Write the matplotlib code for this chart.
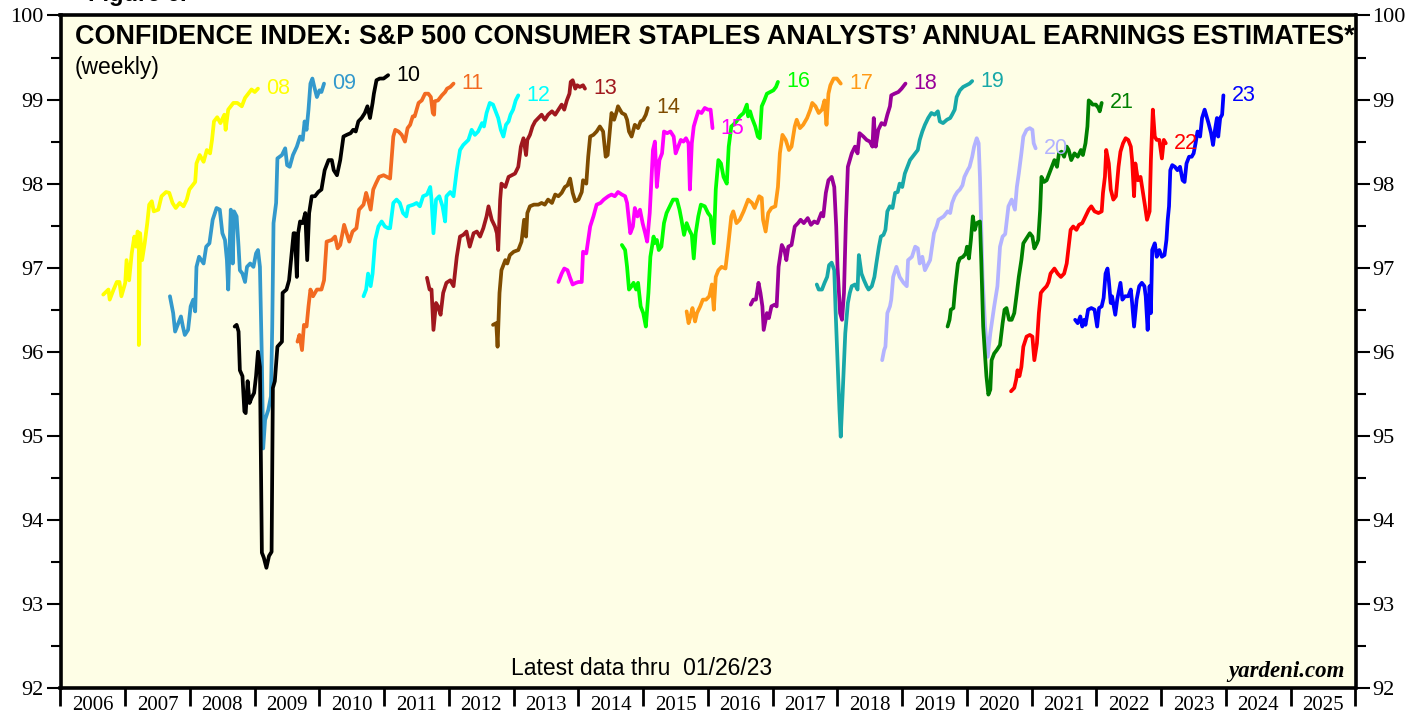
import matplotlib
matplotlib.use("Agg")
import matplotlib.pyplot as plt
from matplotlib.ticker import MultipleLocator, FixedLocator, NullFormatter, FuncFormatter

# ---------------- data (decimal year, confidence index) ----------------
s08 = [(2006.66,96.68),(2006.74,96.74),(2006.76,96.62),(2006.82,96.74),(2006.87,96.83),(2006.91,96.83),(2006.94,96.66),(2007.00,96.82),(2007.02,97.09),(2007.06,96.85),(2007.10,97.17),(2007.14,97.37),(2007.17,97.25),(2007.19,97.43),(2007.21,97.41),(2007.21,96.08),(2007.23,97.41),(2007.26,97.09),(2007.30,97.29),(2007.34,97.53),(2007.37,97.75),(2007.41,97.79),(2007.44,97.67),(2007.51,97.69),(2007.56,97.85),(2007.63,97.90),(2007.68,97.89),(2007.73,97.77),(2007.78,97.71),(2007.84,97.77),(2007.90,97.73),(2007.95,97.81),(2007.99,97.93),(2008.04,97.98),(2008.08,98.02),(2008.10,98.24),(2008.15,98.34),(2008.21,98.26),(2008.26,98.40),(2008.31,98.36),(2008.34,98.52),(2008.37,98.74),(2008.42,98.79),(2008.47,98.72),(2008.53,98.82),(2008.55,98.64),(2008.59,98.88),(2008.67,98.96),(2008.73,98.96),(2008.80,98.92),(2008.85,99.02),(2008.90,99.07),(2008.95,99.12),(2009.00,99.09),(2009.05,99.13)]
s09 = [(2007.69,96.66),(2007.74,96.46),(2007.77,96.24),(2007.82,96.34),(2007.86,96.42),(2007.89,96.30),(2007.92,96.20),(2007.97,96.26),(2008.01,96.54),(2008.05,96.62),(2008.08,96.48),(2008.10,97.01),(2008.14,97.13),(2008.21,97.05),(2008.25,97.25),(2008.30,97.29),(2008.35,97.57),(2008.41,97.71),(2008.46,97.69),(2008.50,97.41),(2008.54,97.33),(2008.57,97.09),(2008.59,96.74),(2008.63,97.69),(2008.66,97.05),(2008.68,97.67),(2008.72,97.61),(2008.75,97.25),(2008.77,96.97),(2008.81,96.93),(2008.85,96.83),(2008.88,97.01),(2008.93,97.05),(2008.98,97.01),(2009.02,97.17),(2009.05,97.21),(2009.08,97.01),(2009.11,95.90),(2009.13,94.85),(2009.16,95.19),(2009.21,95.31),(2009.25,95.47),(2009.27,96.30),(2009.29,97.53),(2009.33,97.77),(2009.35,98.30),(2009.42,98.34),(2009.47,98.42),(2009.50,98.22),(2009.54,98.20),(2009.59,98.34),(2009.65,98.44),(2009.70,98.56),(2009.74,98.52),(2009.77,98.74),(2009.80,98.64),(2009.83,98.88),(2009.86,99.19),(2009.89,99.25),(2009.92,99.15),(2009.96,99.03),(2010.00,99.11),(2010.03,99.09),(2010.07,99.19)]
s10 = [(2008.69,96.30),(2008.72,96.32),(2008.75,96.24),(2008.77,95.78),(2008.81,95.71),(2008.84,95.29),(2008.86,95.27),(2008.89,95.65),(2008.92,95.39),(2008.95,95.45),(2008.99,95.51),(2009.02,95.71),(2009.05,96.00),(2009.08,95.82),(2009.11,93.61),(2009.14,93.55),(2009.18,93.43),(2009.22,93.57),(2009.26,93.62),(2009.28,95.57),(2009.31,95.65),(2009.35,96.06),(2009.42,96.12),(2009.43,96.70),(2009.49,96.74),(2009.53,96.85),(2009.57,97.17),(2009.60,97.41),(2009.62,97.41),(2009.65,96.89),(2009.67,97.41),(2009.70,97.55),(2009.74,97.53),(2009.78,97.65),(2009.81,97.09),(2009.84,97.65),(2009.88,97.85),(2009.93,97.85),(2009.98,97.90),(2010.03,97.93),(2010.08,98.16),(2010.14,98.28),(2010.19,98.28),(2010.22,98.16),(2010.27,98.10),(2010.32,98.28),(2010.37,98.56),(2010.42,98.58),(2010.48,98.60),(2010.52,98.64),(2010.56,98.62),(2010.60,98.74),(2010.65,98.78),(2010.70,98.84),(2010.74,98.92),(2010.78,98.78),(2010.82,98.96),(2010.84,99.07),(2010.88,99.23),(2010.93,99.25),(2010.99,99.25),(2011.06,99.29)]
s11 = [(2009.66,96.12),(2009.69,96.20),(2009.73,96.02),(2009.76,96.32),(2009.80,96.30),(2009.83,96.54),(2009.86,96.74),(2009.90,96.66),(2009.96,96.74),(2010.03,96.74),(2010.07,96.85),(2010.11,97.31),(2010.19,97.33),(2010.24,97.37),(2010.28,97.23),(2010.32,97.27),(2010.38,97.51),(2010.42,97.41),(2010.46,97.31),(2010.51,97.43),(2010.57,97.47),(2010.61,97.69),(2010.68,97.75),(2010.72,97.89),(2010.75,97.81),(2010.79,97.69),(2010.83,97.93),(2010.87,98.00),(2010.92,98.08),(2010.99,98.10),(2011.04,98.08),(2011.09,98.06),(2011.14,98.56),(2011.17,98.64),(2011.22,98.62),(2011.27,98.58),(2011.32,98.50),(2011.36,98.66),(2011.40,98.70),(2011.44,98.80),(2011.47,98.80),(2011.53,98.96),(2011.58,98.99),(2011.63,99.07),(2011.68,99.07),(2011.72,99.03),(2011.75,98.84),(2011.77,98.82),(2011.78,98.98),(2011.83,98.99),(2011.89,99.05),(2011.94,99.09),(2011.97,99.13),(2012.02,99.15),(2012.07,99.19)]
s12 = [(2010.68,96.66),(2010.72,96.74),(2010.75,96.93),(2010.79,96.78),(2010.82,96.93),(2010.86,97.33),(2010.91,97.49),(2010.96,97.55),(2011.01,97.49),(2011.06,97.47),(2011.09,97.47),(2011.14,97.77),(2011.19,97.81),(2011.24,97.77),(2011.29,97.65),(2011.34,97.61),(2011.37,97.73),(2011.45,97.75),(2011.50,97.77),(2011.55,97.73),(2011.60,97.85),(2011.66,97.87),(2011.71,97.96),(2011.73,97.81),(2011.76,97.41),(2011.80,97.81),(2011.85,97.85),(2011.90,97.73),(2011.94,97.55),(2011.96,97.85),(2012.02,97.90),(2012.07,97.85),(2012.12,98.16),(2012.17,98.40),(2012.22,98.46),(2012.30,98.52),(2012.35,98.64),(2012.40,98.58),(2012.45,98.62),(2012.51,98.72),(2012.54,98.68),(2012.58,98.84),(2012.63,98.96),(2012.68,98.94),(2012.73,98.84),(2012.76,98.78),(2012.80,98.64),(2012.84,98.56),(2012.88,98.70),(2012.92,98.74),(2012.95,98.82),(2012.99,98.88),(2013.03,98.99),(2013.07,99.05)]
s13 = [(2011.66,96.88),(2011.70,96.74),(2011.73,96.74),(2011.76,96.26),(2011.80,96.58),(2011.83,96.54),(2011.87,96.44),(2011.91,96.70),(2011.96,96.82),(2012.02,96.85),(2012.07,96.78),(2012.12,97.13),(2012.17,97.37),(2012.22,97.39),(2012.27,97.43),(2012.32,97.25),(2012.38,97.41),(2012.43,97.43),(2012.48,97.37),(2012.53,97.47),(2012.58,97.61),(2012.61,97.73),(2012.66,97.57),(2012.71,97.49),(2012.74,97.41),(2012.76,97.21),(2012.79,97.81),(2012.81,98.00),(2012.87,97.96),(2012.92,98.08),(2012.97,98.10),(2013.02,98.12),(2013.07,98.20),(2013.11,98.44),(2013.15,98.54),(2013.19,98.34),(2013.21,98.52),(2013.25,98.58),(2013.29,98.68),(2013.33,98.74),(2013.38,98.78),(2013.43,98.82),(2013.48,98.76),(2013.53,98.82),(2013.59,98.86),(2013.64,98.82),(2013.69,98.88),(2013.74,98.94),(2013.78,98.88),(2013.82,98.99),(2013.86,99.07),(2013.88,99.21),(2013.91,99.23),(2013.95,99.13),(2013.98,99.17),(2014.02,99.15),(2014.07,99.17),(2014.10,99.13)]
s14 = [(2012.68,96.32),(2012.73,96.34),(2012.75,96.06),(2012.78,96.70),(2012.81,96.97),(2012.87,97.09),(2012.90,97.05),(2012.94,97.15),(2013.00,97.19),(2013.07,97.21),(2013.12,97.31),(2013.16,97.57),(2013.19,97.37),(2013.21,97.65),(2013.25,97.73),(2013.31,97.75),(2013.38,97.75),(2013.43,97.77),(2013.48,97.75),(2013.53,97.81),(2013.59,97.77),(2013.64,97.87),(2013.69,97.85),(2013.74,97.89),(2013.79,97.96),(2013.83,97.98),(2013.87,98.06),(2013.91,97.89),(2013.95,97.79),(2014.00,97.81),(2014.05,97.90),(2014.07,98.04),(2014.12,98.00),(2014.15,98.32),(2014.18,98.56),(2014.23,98.58),(2014.28,98.62),(2014.33,98.68),(2014.38,98.62),(2014.42,98.32),(2014.45,98.34),(2014.49,98.68),(2014.51,98.84),(2014.55,98.76),(2014.59,98.86),(2014.61,98.92),(2014.67,98.84),(2014.72,98.82),(2014.75,98.76),(2014.78,98.62),(2014.82,98.56),(2014.87,98.70),(2014.92,98.66),(2014.96,98.74),(2015.00,98.76),(2015.04,98.82),(2015.07,98.90)]
s15 = [(2013.69,96.83),(2013.74,96.93),(2013.78,96.99),(2013.83,96.97),(2013.87,96.88),(2013.91,96.80),(2013.96,96.82),(2014.00,96.83),(2014.05,96.83),(2014.07,97.19),(2014.12,97.17),(2014.15,97.33),(2014.18,97.49),(2014.23,97.61),(2014.28,97.75),(2014.34,97.77),(2014.39,97.81),(2014.46,97.85),(2014.51,97.87),(2014.56,97.85),(2014.61,97.90),(2014.67,97.87),(2014.72,97.85),(2014.75,97.77),(2014.80,97.41),(2014.84,97.49),(2014.87,97.71),(2014.91,97.61),(2014.95,97.69),(2014.99,97.53),(2015.03,97.41),(2015.06,97.31),(2015.10,97.65),(2015.15,98.40),(2015.18,98.50),(2015.21,97.96),(2015.25,98.28),(2015.29,98.36),(2015.32,98.62),(2015.37,98.60),(2015.42,98.62),(2015.47,98.56),(2015.50,98.36),(2015.54,98.44),(2015.58,98.52),(2015.62,98.50),(2015.66,98.54),(2015.70,98.48),(2015.72,97.93),(2015.75,98.48),(2015.78,98.68),(2015.81,98.76),(2015.85,98.86),(2015.90,98.84),(2015.95,98.90),(2016.00,98.88),(2016.04,98.88),(2016.07,98.66)]
s16 = [(2014.67,97.27),(2014.72,97.21),(2014.75,97.01),(2014.78,96.74),(2014.82,96.78),(2014.85,96.82),(2014.89,96.74),(2014.92,96.82),(2014.96,96.54),(2015.00,96.46),(2015.04,96.30),(2015.08,96.70),(2015.11,97.13),(2015.16,97.37),(2015.17,97.29),(2015.21,97.33),(2015.24,97.21),(2015.28,97.25),(2015.32,97.53),(2015.36,97.65),(2015.41,97.73),(2015.46,97.81),(2015.52,97.81),(2015.56,97.69),(2015.59,97.57),(2015.63,97.39),(2015.67,97.53),(2015.71,97.45),(2015.75,97.39),(2015.78,97.11),(2015.81,97.41),(2015.85,97.61),(2015.89,97.75),(2015.95,97.73),(2016.00,97.65),(2016.04,97.61),(2016.09,97.29),(2016.12,97.93),(2016.16,98.28),(2016.20,98.24),(2016.24,98.08),(2016.29,98.00),(2016.32,98.44),(2016.36,98.68),(2016.39,98.70),(2016.44,98.74),(2016.49,98.80),(2016.55,98.84),(2016.60,98.94),(2016.62,98.80),(2016.65,98.86),(2016.68,98.78),(2016.73,98.68),(2016.77,98.56),(2016.80,98.54),(2016.83,98.92),(2016.87,98.99),(2016.91,99.07),(2016.96,99.09),(2017.01,99.11),(2017.05,99.15),(2017.08,99.21)]
s17 = [(2015.67,96.48),(2015.70,96.34),(2015.73,96.42),(2015.76,96.52),(2015.80,96.36),(2015.83,96.46),(2015.88,96.54),(2015.92,96.62),(2015.97,96.62),(2016.02,96.66),(2016.06,96.80),(2016.09,96.50),(2016.12,96.89),(2016.16,96.97),(2016.21,97.01),(2016.27,96.99),(2016.31,97.25),(2016.36,97.61),(2016.39,97.67),(2016.44,97.53),(2016.49,97.57),(2016.55,97.67),(2016.58,97.73),(2016.62,97.81),(2016.68,97.77),(2016.72,97.71),(2016.75,97.77),(2016.79,97.85),(2016.83,97.83),(2016.85,97.57),(2016.89,97.43),(2016.93,97.65),(2016.98,97.71),(2017.04,97.73),(2017.08,97.96),(2017.11,98.36),(2017.15,98.58),(2017.20,98.52),(2017.25,98.40),(2017.29,98.44),(2017.34,98.68),(2017.37,98.76),(2017.42,98.66),(2017.47,98.70),(2017.53,98.78),(2017.58,98.88),(2017.61,98.96),(2017.66,98.92),(2017.71,98.84),(2017.76,98.88),(2017.80,98.99),(2017.83,98.70),(2017.86,99.07),(2017.89,99.17),(2017.94,99.25),(2017.99,99.25),(2018.05,99.19)]
s18 = [(2016.66,96.56),(2016.70,96.62),(2016.74,96.62),(2016.78,96.82),(2016.81,96.70),(2016.84,96.54),(2016.86,96.26),(2016.91,96.46),(2016.94,96.40),(2016.98,96.54),(2017.03,96.56),(2017.06,96.54),(2017.09,97.01),(2017.14,97.27),(2017.18,97.21),(2017.21,97.09),(2017.24,97.25),(2017.29,97.27),(2017.34,97.49),(2017.39,97.53),(2017.43,97.57),(2017.48,97.53),(2017.54,97.59),(2017.59,97.51),(2017.64,97.55),(2017.69,97.53),(2017.75,97.65),(2017.78,97.61),(2017.82,97.89),(2017.86,98.04),(2017.91,98.08),(2017.95,97.96),(2017.98,97.49),(2018.00,97.01),(2018.04,96.46),(2018.07,96.38),(2018.10,96.70),(2018.13,97.57),(2018.16,98.20),(2018.19,98.28),(2018.22,98.36),(2018.27,98.44),(2018.31,98.36),(2018.34,98.60),(2018.40,98.56),(2018.45,98.52),(2018.50,98.50),(2018.54,98.44),(2018.56,98.78),(2018.59,98.44),(2018.63,98.64),(2018.68,98.72),(2018.73,98.70),(2018.77,98.82),(2018.81,98.92),(2018.83,99.05),(2018.88,99.07),(2018.94,99.09),(2018.99,99.13),(2019.05,99.19)]
s19 = [(2017.68,96.80),(2017.71,96.74),(2017.76,96.74),(2017.80,96.82),(2017.84,96.89),(2017.87,97.03),(2017.91,97.06),(2017.95,96.97),(2017.97,96.50),(2018.00,95.90),(2018.03,95.31),(2018.05,94.99),(2018.08,95.51),(2018.12,96.22),(2018.16,96.58),(2018.19,96.70),(2018.22,96.78),(2018.27,96.80),(2018.31,96.74),(2018.33,97.15),(2018.37,96.93),(2018.41,96.85),(2018.45,96.78),(2018.48,96.74),(2018.53,96.78),(2018.57,96.89),(2018.60,97.05),(2018.64,97.25),(2018.67,97.37),(2018.71,97.39),(2018.74,97.45),(2018.77,97.67),(2018.81,97.73),(2018.85,97.71),(2018.89,97.89),(2018.93,97.90),(2018.96,98.00),(2019.00,97.96),(2019.04,98.12),(2019.08,98.20),(2019.12,98.28),(2019.16,98.32),(2019.20,98.36),(2019.24,98.40),(2019.27,98.52),(2019.31,98.62),(2019.35,98.70),(2019.40,98.78),(2019.45,98.84),(2019.50,98.82),(2019.55,98.86),(2019.58,98.74),(2019.63,98.72),(2019.69,98.76),(2019.74,98.78),(2019.77,98.82),(2019.81,98.88),(2019.84,99.03),(2019.89,99.11),(2019.94,99.15),(2019.99,99.17),(2020.04,99.19),(2020.08,99.22)]
s20 = [(2018.69,95.90),(2018.72,96.02),(2018.74,96.06),(2018.77,96.46),(2018.81,96.54),(2018.83,96.62),(2018.86,96.89),(2018.91,97.01),(2018.96,96.89),(2019.02,96.82),(2019.07,96.78),(2019.09,97.09),(2019.15,97.13),(2019.20,97.25),(2019.24,97.23),(2019.27,97.05),(2019.31,97.13),(2019.35,96.97),(2019.39,97.03),(2019.43,97.09),(2019.46,97.25),(2019.49,97.41),(2019.53,97.49),(2019.56,97.57),(2019.60,97.59),(2019.64,97.61),(2019.70,97.67),(2019.74,97.65),(2019.77,97.77),(2019.81,97.85),(2019.85,97.90),(2019.89,97.93),(2019.93,97.98),(2019.96,98.08),(2020.01,98.16),(2020.04,98.20),(2020.08,98.32),(2020.11,98.44),(2020.15,98.54),(2020.18,98.48),(2020.20,98.08),(2020.22,97.49),(2020.24,96.89),(2020.28,96.30),(2020.32,95.94),(2020.36,96.22),(2020.42,96.54),(2020.47,96.78),(2020.51,97.25),(2020.55,97.37),(2020.59,97.40),(2020.64,97.73),(2020.69,97.81),(2020.74,97.69),(2020.77,97.96),(2020.80,98.12),(2020.84,98.36),(2020.87,98.56),(2020.92,98.64),(2020.97,98.66),(2021.01,98.64),(2021.03,98.48),(2021.06,98.42)]
s21 = [(2019.70,96.30),(2019.73,96.38),(2019.75,96.50),(2019.79,96.52),(2019.82,96.78),(2019.86,97.05),(2019.89,97.11),(2019.94,97.13),(2019.98,97.17),(2020.00,97.25),(2020.03,97.11),(2020.06,97.33),(2020.09,97.61),(2020.12,97.45),(2020.15,97.53),(2020.20,97.55),(2020.22,97.09),(2020.25,96.30),(2020.28,95.94),(2020.30,95.71),(2020.33,95.49),(2020.36,95.55),(2020.38,95.90),(2020.42,95.98),(2020.46,96.02),(2020.51,96.08),(2020.55,96.34),(2020.58,96.50),(2020.61,96.52),(2020.65,96.38),(2020.69,96.38),(2020.73,96.46),(2020.77,96.70),(2020.80,96.89),(2020.84,97.09),(2020.87,97.29),(2020.92,97.35),(2020.97,97.41),(2021.01,97.37),(2021.04,97.23),(2021.08,97.29),(2021.10,97.33),(2021.13,97.69),(2021.15,98.08),(2021.19,98.02),(2021.23,98.04),(2021.26,98.10),(2021.31,98.20),(2021.35,98.28),(2021.39,98.20),(2021.42,98.36),(2021.46,98.38),(2021.50,98.32),(2021.54,98.44),(2021.57,98.40),(2021.61,98.28),(2021.66,98.36),(2021.71,98.32),(2021.76,98.40),(2021.79,98.34),(2021.83,98.48),(2021.86,98.68),(2021.88,98.99),(2021.91,98.97),(2021.94,98.94),(2021.99,98.94),(2022.03,98.90),(2022.05,98.86),(2022.08,98.96)]
s22 = [(2020.68,95.53),(2020.73,95.57),(2020.76,95.67),(2020.78,95.78),(2020.81,95.71),(2020.84,95.82),(2020.87,96.06),(2020.92,96.18),(2020.97,96.20),(2021.01,96.18),(2021.04,95.90),(2021.08,96.10),(2021.11,96.46),(2021.14,96.70),(2021.18,96.74),(2021.23,96.78),(2021.26,96.83),(2021.29,96.93),(2021.35,96.99),(2021.40,96.93),(2021.45,96.89),(2021.50,96.93),(2021.54,97.05),(2021.57,97.25),(2021.60,97.45),(2021.64,97.49),(2021.69,97.45),(2021.73,97.51),(2021.78,97.53),(2021.83,97.61),(2021.88,97.69),(2021.92,97.73),(2021.97,97.67),(2022.03,97.65),(2022.08,97.67),(2022.10,97.89),(2022.13,98.08),(2022.15,98.40),(2022.19,98.24),(2022.22,97.93),(2022.26,97.81),(2022.30,97.85),(2022.34,98.20),(2022.37,98.38),(2022.41,98.48),(2022.45,98.54),(2022.49,98.52),(2022.53,98.44),(2022.55,98.28),(2022.58,97.85),(2022.60,98.24),(2022.64,98.04),(2022.68,98.08),(2022.71,97.93),(2022.75,97.73),(2022.78,97.57),(2022.82,97.67),(2022.84,98.28),(2022.87,98.88),(2022.90,98.56),(2022.93,98.52),(2022.97,98.52),(2023.01,98.30),(2023.04,98.52),(2023.07,98.48)]
s23 = [(2021.67,96.38),(2021.71,96.34),(2021.75,96.42),(2021.78,96.30),(2021.81,96.38),(2021.83,96.32),(2021.87,96.50),(2021.92,96.52),(2021.97,96.50),(2022.01,96.30),(2022.04,96.52),(2022.08,96.54),(2022.11,96.64),(2022.14,96.93),(2022.17,96.99),(2022.19,96.85),(2022.22,96.58),(2022.24,96.66),(2022.29,96.44),(2022.32,96.62),(2022.37,96.82),(2022.40,96.62),(2022.44,96.66),(2022.49,96.66),(2022.53,96.74),(2022.55,96.58),(2022.58,96.30),(2022.62,96.62),(2022.66,96.78),(2022.70,96.82),(2022.74,96.78),(2022.76,96.66),(2022.79,96.26),(2022.82,96.78),(2022.84,96.46),(2022.86,97.21),(2022.90,97.29),(2022.93,97.13),(2022.97,97.21),(2023.01,97.13),(2023.05,97.15),(2023.08,97.33),(2023.10,97.57),(2023.12,97.73),(2023.14,98.16),(2023.17,98.22),(2023.21,98.20),(2023.25,98.16),(2023.29,98.20),(2023.33,98.04),(2023.36,98.02),(2023.39,98.24),(2023.43,98.32),(2023.47,98.32),(2023.50,98.36),(2023.53,98.48),(2023.56,98.62),(2023.60,98.56),(2023.63,98.78),(2023.67,98.88),(2023.70,98.80),(2023.73,98.72),(2023.77,98.60),(2023.80,98.46),(2023.83,98.64),(2023.86,98.78),(2023.88,98.56),(2023.91,98.78),(2023.94,98.82),(2023.96,99.05)]

series_labels = ["08", "09", "10", "11", "12", "13", "14", "15",
                 "16", "17", "18", "19", "20", "21", "22", "23"]
series_data = [s08, s09, s10, s11, s12, s13, s14, s15,
               s16, s17, s18, s19, s20, s21, s22, s23]
series_colors = ["#FFFF00", "#3399CC", "#000000", "#F26A21", "#00FFFF", "#A0181E",
                 "#7F4C00", "#FF00FF", "#00FF00", "#FF9A16", "#990099", "#18A8A8",
                 "#B3B3FF", "#008000", "#FF0000", "#0000FF"]
year_labels = [str(y) for y in range(2006, 2026)]

title = "CONFIDENCE INDEX: S&P 500 CONSUMER STAPLES ANALYSTS\u2019 ANNUAL EARNINGS ESTIMATES*"

# ---------------- figure ----------------
fig = plt.figure(figsize=(14.26, 7.17), dpi=100)
ax = fig.add_axes([60.5/1426, 1-688/717, 1295/1426, 672.5/717])
ax.set_facecolor("#FEFEE6")

for lab, data, col in zip(series_labels, series_data, series_colors):
    xs = [p[0] for p in data]
    ys = [p[1] for p in data]
    ax.plot(xs, ys, color=col, lw=2.7, solid_joinstyle="round", solid_capstyle="round")
    ax.annotate(lab, (xs[-1], ys[-1]), xytext=(6, 0), textcoords="offset points",
                color=col, fontsize=15.5, va="center", ha="left", family="Liberation Sans")

ax.set_xlim(2006, 2026)
ax.set_ylim(92, 100)

# x axis: ticks at year boundaries, labels centred in each year
ax.xaxis.set_major_locator(MultipleLocator(1))
ax.xaxis.set_major_formatter(NullFormatter())
ax.xaxis.set_minor_locator(FixedLocator([y + 0.5 for y in range(2006, 2026)]))
ax.set_xticklabels(year_labels, minor=True)
ax.tick_params(axis="x", which="major", direction="out", length=13, width=2, color="black")
ax.tick_params(axis="x", which="minor", length=0, pad=6, labelsize=15)
for t in ax.get_xticklabels(minor=True):
    t.set_family("Liberation Serif")

# y axis: both sides
ax.yaxis.set_major_locator(MultipleLocator(1))
ax.yaxis.set_minor_locator(MultipleLocator(0.5))
ax.yaxis.set_major_formatter(FuncFormatter(lambda v, p: f"{v:.0f}"))
ax.tick_params(axis="y", which="major", direction="out", length=10, width=1.5,
               left=True, right=True, labelleft=True, labelright=True, labelsize=16, pad=2)
ax.tick_params(axis="y", which="minor", direction="out", length=7, width=1.5,
               left=True, right=True)
for t in ax.get_yticklabels():
    t.set_family("Liberation Serif")

for sp in ax.spines.values():
    sp.set_linewidth(2.6)
    sp.set_color("black")

# texts
ax.text(0.011, 0.968, title, transform=ax.transAxes, fontsize=19.45, fontweight="bold",
        family="Liberation Sans", va="center", ha="left")
ax.text(0.011, 0.922, "(weekly)", transform=ax.transAxes, fontsize=16.5,
        family="Liberation Sans", va="center", ha="left")
ax.text(0.4485, 0.029, "Latest data thru  01/26/23", transform=ax.transAxes, fontsize=16.5,
        family="Liberation Sans", va="center", ha="center")
ax.text(0.9915, 0.024, "yardeni.com", transform=ax.transAxes, fontsize=16.5,
        family="Liberation Serif", fontweight="bold", style="italic", va="center", ha="right")
fig.text(0.062, 0.999, "Figure 6.", fontsize=17, fontweight="bold",
         family="Liberation Sans", va="baseline", ha="left")

fig.savefig("out.png", dpi=100, facecolor="white")
